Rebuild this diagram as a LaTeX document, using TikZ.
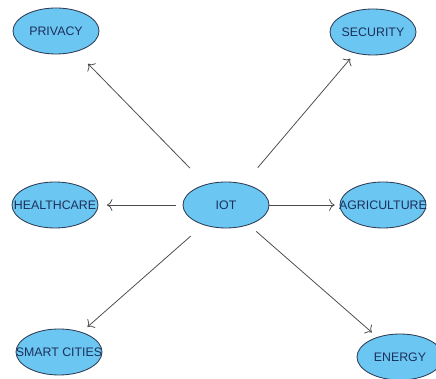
\documentclass[tikz,border=0pt]{standalone}
\usepackage{fontspec}
\setmainfont{Liberation Sans}
\usetikzlibrary{shapes.geometric}
\usetikzlibrary{arrows.meta}
\definecolor{topicfill}{RGB}{108,198,242}
\definecolor{topicline}{RGB}{45,60,85}
\definecolor{topictext}{RGB}{28,48,92}
\definecolor{linkgray}{RGB}{75,75,75}
\tikzset{
% Topic nodes: light blue ellipses, fixed size
topic node/.style={ellipse,draw=topicline,fill=topicfill,line width=0.6pt,
  minimum width=2.15cm,minimum height=1.15cm,inner sep=0pt,text=topictext},
% Links from the hub
link/.style={-{To[scale=1.4]},draw=linkgray,line width=0.55pt}
}
\newcommand{\tag}[1]{\makebox[0pt]{#1}}

\begin{document}
\begin{tikzpicture}[x=0.025cm,y=-0.025cm,font=\fontsize{8.8}{10}\selectfont]
		\useasboundingbox (0,0) rectangle (436,379);
		\clip (0,0) rectangle (436,379);
		% The hub
		\node(iot)[topic node] at (226,205){\tag{IOT}};
		% The topics around it
		\node(priv)[topic node] at (56,31){\tag{PRIVACY}};
		\node(sec)[topic node] at (373,32){\tag{SECURITY}};
		\node(health)[topic node] at (55,205){\tag{HEALTHCARE}};
		\node(agri)[topic node] at (383,205){\tag{AGRICULTURE}};
		\node(smart)[topic node] at (59,352){\tag{SMART CITIES}};
		\node(energy)[topic node] at (400,357){\tag{ENERGY}};
		% links
		\draw[link,shorten <=16pt,shorten >=12pt](iot)--(priv);
		\draw[link,shorten <=15pt,shorten >=5pt](iot)--(sec);
		\draw[link,shorten <=5pt,shorten >=6pt](iot)--(health);
		\draw[link,shorten <=0pt,shorten >=3.5pt](iot)--(agri);
		\draw[link,shorten <=12pt,shorten >=5.5pt](iot)--(smart);
		\draw[link,shorten <=7pt,shorten >=5pt](iot)--(energy);
	\end{tikzpicture}
\end{document}
